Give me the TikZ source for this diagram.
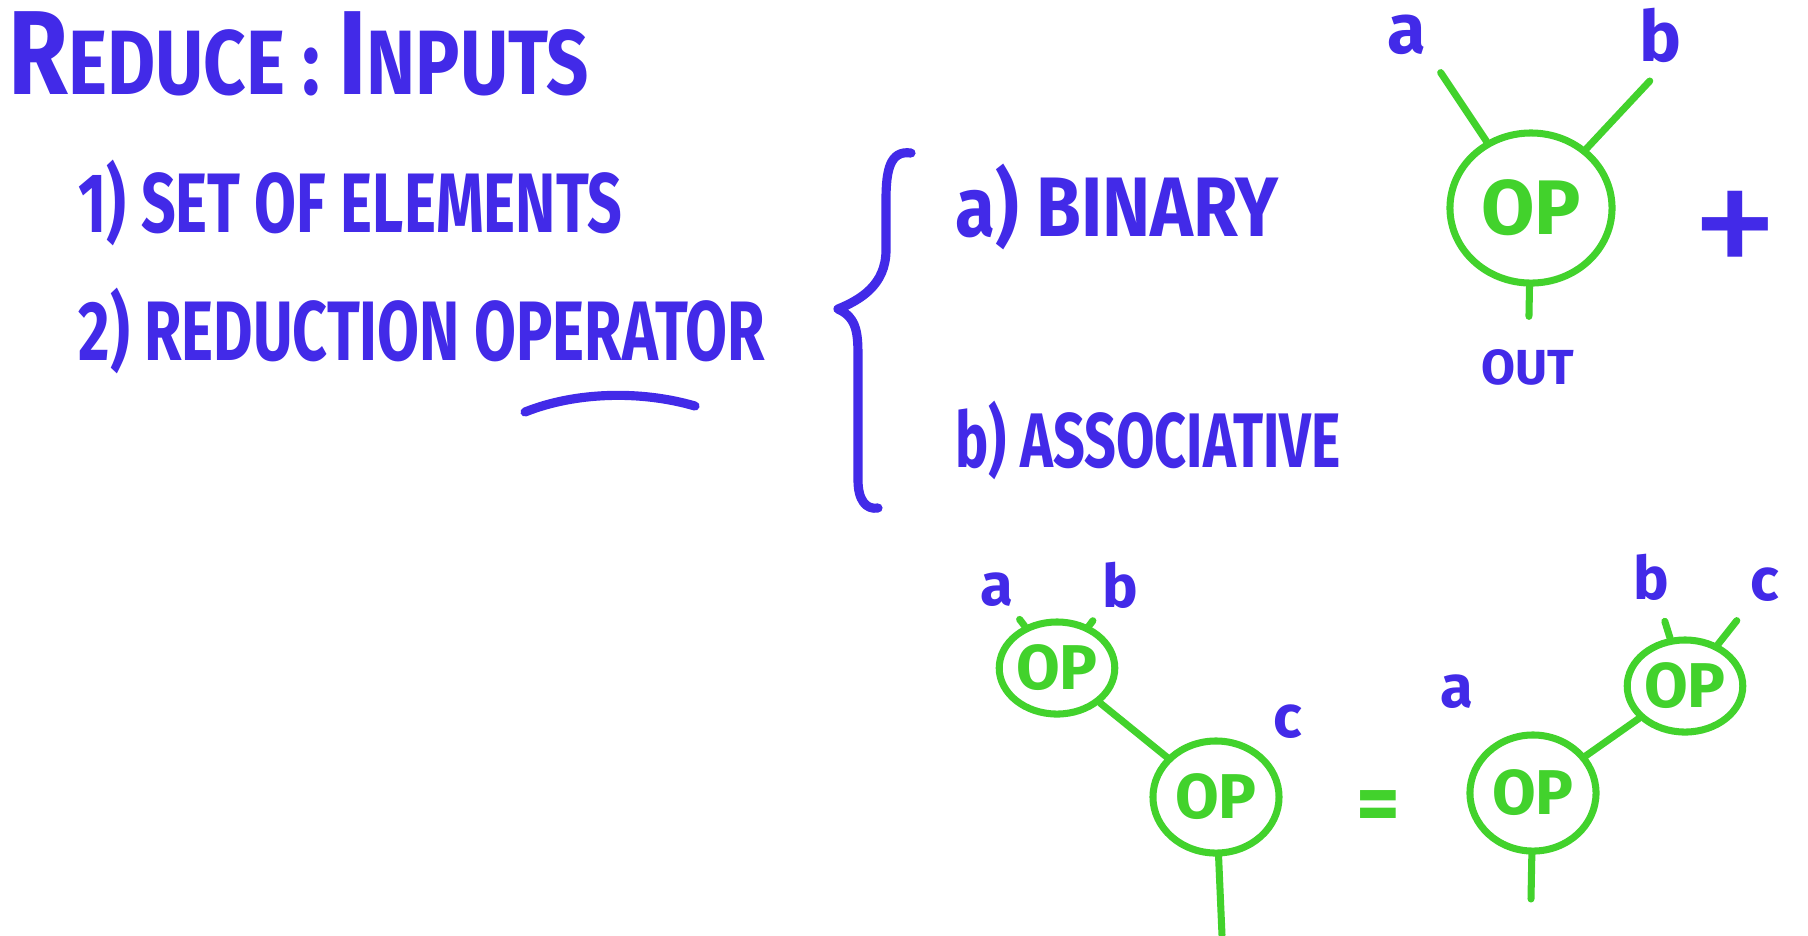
\documentclass[tikz,border=0pt]{standalone}
\usepackage{fontspec}
\setmainfont{Fira Sans}
\newfontfamily\handfont{Fira Sans}[FakeStretch=0.72]
\newfontfamily\handwide{Fira Sans}[FakeStretch=0.86]
\newfontfamily\handtitle{Fira Sans}[FakeStretch=0.81]
\usetikzlibrary{shapes.geometric}
\definecolor{penblue}{RGB}{66,42,232}
\definecolor{pengreen}{RGB}{66,210,44}

\begin{document}
\begin{tikzpicture}[x=0.01cm,y=-0.01cm,
	handtext/.style={text=penblue, anchor=base west, inner sep=0pt, font=\handfont\bfseries\fontsize{24}{28}\selectfont},
	letter/.style={text=penblue, inner sep=2pt, font=\bfseries\fontsize{20}{24}\selectfont},
	smallletter/.style={letter, font=\bfseries\fontsize{17}{20}\selectfont},
	opnode/.style={ellipse, draw=pengreen, line width=2pt, text=pengreen, inner sep=0pt, font=\bfseries\fontsize{18}{20}\selectfont},
	wire/.style={draw=pengreen, line width=2pt, line cap=round},
	ink/.style={draw=penblue, line width=2.6pt, line cap=round, line join=round}]
	\useasboundingbox[fill=white] (0,0) rectangle (1808,935);

	% list of inputs
	\node[handtext, font=\handtitle\bfseries\fontsize{26}{30}\selectfont] (title) at (8,94) {{\fontsize{34}{36}\selectfont R}EDUCE : {\fontsize{34}{36}\selectfont I}NPUTS};
	\node[handtext] (item1) at (78,232) {1) SET OF ELEMENTS};
	\node[handtext] (item2) at (78,360) {2) REDUCTION OPERATOR};
	\draw[ink] (525,412) .. controls (575,392) and (640,390) .. (695,406);

	% brace and properties
	\draw[ink] (911,153) .. controls (890,150) and (886,170) .. (886,200) -- (886,250)
		.. controls (886,285) and (860,300) .. (838,309)
		.. controls (858,318) and (858,335) .. (858,360) -- (858,480)
		.. controls (858,500) and (866,510) .. (878,508);
	\node[handtext, font=\handwide\bfseries\fontsize{24}{28}\selectfont] (binary) at (955,236) {a) BINARY};
	\node[handtext, font=\handfont\bfseries\fontsize{22}{26}\selectfont] (assoc) at (955,467) {b) ASSOCIATIVE};

	% binary operator
	{
		\node[opnode, minimum width=1.62cm, minimum height=1.50cm, font=\bfseries\fontsize{22}{24}\selectfont] (optop) at (1531,208) {OP};
		\node[letter] (la) at (1407,35) {a};
		\node[letter] (lb) at (1660,35) {b};
		\node[letter, font=\bfseries\fontsize{14}{16}\selectfont] (out) at (1528,367) {OUT};
		\draw[wire, shorten <=0.12cm] (la.south east) -- (optop);
		\draw[wire, shorten <=0.15cm] (lb.south) -- (optop);
		\draw[wire, shorten >=0.25cm] (optop) -- (out);
		\node[letter, font=\fontsize{50}{52}\selectfont] (plus) at (1735,237) {+};
	}

	% (a op b) op c
	{
		\node[opnode, minimum width=1.12cm, minimum height=0.92cm] (op1) at (1057,668) {OP};
		\node[opnode, minimum width=1.26cm, minimum height=1.12cm] (op2) at (1216,797) {OP};
		\node[smallletter] (a1) at (997,590) {a};
		\node[smallletter] (b1) at (1120,585) {b};
		\node[smallletter] (c1) at (1288,722) {c};
		\coordinate (end1) at (1222,935);
		\draw[wire, shorten <=0.06cm] (a1) -- (op1);
		\draw[wire, shorten <=0.06cm] (b1) -- (op1);
		\draw[wire] (op1) -- (op2);
		\draw[wire] (op2) -- (end1);
	}

	\node[letter, text=pengreen, font=\bfseries\fontsize{24}{26}\selectfont] (eq) at (1378,812) {=};

	% a op (b op c)
	{
		\node[opnode, minimum width=1.26cm, minimum height=1.16cm] (op3) at (1533,793) {OP};
		\node[opnode, minimum width=1.12cm, minimum height=0.92cm] (op4) at (1685,686) {OP};
		\node[smallletter] (a2) at (1457,692) {a};
		\node[smallletter] (b2) at (1651,577) {b};
		\node[smallletter] (c2) at (1765,585) {c};
		\coordinate (end2) at (1531,899);
		\draw[wire, shorten <=0.14cm] (b2) -- (op4);
		\draw[wire, shorten <=0.14cm] (c2) -- (op4);
		\draw[wire] (op4) -- (op3);
		\draw[wire] (op3) -- (end2);
	}
\end{tikzpicture}
\end{document}
